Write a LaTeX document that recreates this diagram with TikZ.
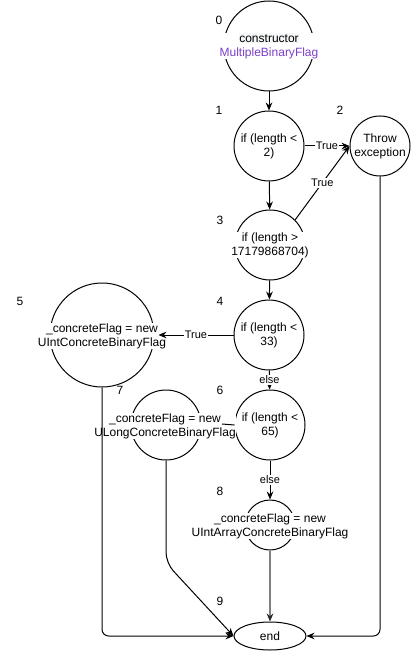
\documentclass[tikz,border=0pt]{standalone}
\usepackage{fontspec}
\setmainfont{Liberation Sans}
\usetikzlibrary{arrows.meta,shapes.geometric}
\definecolor{purp}{RGB}{127,63,200}
\definecolor{edgegray}{RGB}{128,128,128}
\definecolor{lightbg}{RGB}{246,247,248}
\begin{document}
\begin{tikzpicture}[x=0.75pt,y=-0.75pt,
  every node/.style={font=\fontsize{9pt}{10.5pt}\selectfont},
  state/.style={draw,circle,line width=0.75pt,inner sep=0pt},
  txt/.style={align=center,inner sep=0.4pt,fill=white},
  num/.style={inner sep=0pt},
  lbl/.style={font=\fontsize{8.25pt}{9pt}\selectfont,fill=white,inner sep=0.8pt},
  edge/.style={line width=0.75pt,-{Stealth[length=6pt,width=5pt,inset=2pt]}}]
\useasboundingbox (0,0) rectangle (412,652);
% circles
\node[state,minimum size=90*0.75pt] (n0) at (269,46) {};
\node[state,minimum size=70*0.75pt] (n1) at (269,146) {};
\node[state,minimum size=60*0.75pt] (n2) at (380,146) {};
\node[state,minimum size=70*0.75pt] (n3) at (270,245) {};
\node[state,minimum size=70*0.75pt] (n4) at (269,335) {};
\node[state,minimum size=104*0.75pt] (n5) at (102,335) {};
\node[state,minimum size=70*0.75pt] (n6) at (270,425) {};
\node[state,minimum size=70*0.75pt] (n7) at (166,425) {};
\node[state,minimum size=50*0.75pt] (n8) at (270,525) {};
\node[draw,ellipse,line width=0.75pt,inner sep=0pt,minimum width=72*0.75pt,minimum height=28*0.75pt] (n9) at (270,636) {end};
% texts
\node[txt] (t0) at (269,46) {\setlength{\fboxsep}{0.6pt}\colorbox{lightbg}{constructor}\\\textcolor{purp}{MultipleBinaryFlag}};
\node[txt,fill=none] (t1) at (269,146) {if (length <\\2)};
\node[txt,fill=none] (t2) at (380,146) {Throw\\exception};
\node[txt] (t3) at (270,245) {if (length >\\17179868704)};
\node[txt,fill=none] (t4) at (269,335) {if (length <\\33)};
\node[txt] (t5) at (102,336) {\_concreteFlag = new\\UIntConcreteBinaryFlag};
\node[txt,fill=none] (t6) at (270,425) {if (length <\\65)};
\node[txt] (t7) at (165,426) {\_concreteFlag = new\\ULongConcreteBinaryFlag};
\node[txt] (t8) at (270,526) {\_concreteFlag = new\\UIntArrayConcreteBinaryFlag};
% numbers
\node[num] (l0) at (219,20) {0};
\node[num] (l1) at (219,110) {1};
\node[num] (l2) at (340,110) {2};
\node[num] (l3) at (220,220) {3};
\node[num] (l4) at (220,301) {4};
\node[num] (l5) at (20,301) {5};
\node[num] (l6) at (220,390) {6};
\node[num] (l7) at (120,390) {7};
\node[num] (l8) at (220,491) {8};
\node[num] (l9) at (220,601) {9};
% coordinates
\coordinate (c67) at (222,424);
\coordinate (b7) at (166,563);
% edges
\draw[edge] (n0) -- (n1);
\draw[edge] (n1) -- (n2) node[lbl,midway] {True};
\draw[edge] (n1) -- (n3);
\draw[edge] (n3.45) -- (n2.west) node[lbl,midway] {True};
\draw[edge] (n3) -- (n4);
\draw[edge] (n4.west) -- ([xshift=3pt]n5.east) node[lbl,midway] {True};
\draw[edge] (n4) -- (n6) node[lbl,midway] {else};
\draw[line width=0.75pt] (n6.west) -- (c67);
\draw[edge] (n6) -- (n8) node[lbl,midway] {else};
\draw[line width=1.5pt,draw=edgegray,-{Stealth[length=6pt,width=5pt,inset=2pt,color=black!85]}] (n8) -- (n9);
\draw[edge,rounded corners=5pt] (n5.south) |- (n9.west);
\draw[edge,rounded corners=8pt] (n7.south) -- (b7) -- (n9.west);
\draw[edge,rounded corners=5pt] (n2.south) |- (n9.east);
\end{tikzpicture}
\end{document}
